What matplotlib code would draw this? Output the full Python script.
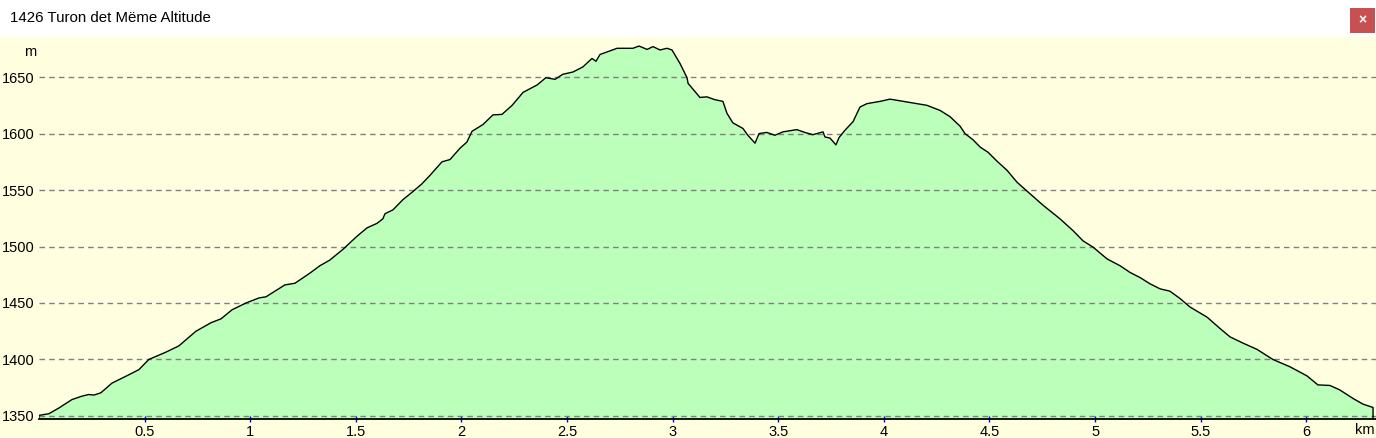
"""Altitude profile: 1426 Turon det Mëme"""
import numpy as np
from matplotlib import pyplot as plt
from matplotlib.patches import Rectangle

plt.rcParams['font.family'] = ['Liberation Sans', 'DejaVu Sans']

title = "1426 Turon det Mëme Altitude"

# distance (km) and altitude (m)
dist_km = [0.000, 0.047, 0.094, 0.156, 0.203, 0.236, 0.260, 0.293, 0.345, 0.426,
           0.473, 0.520, 0.601, 0.662, 0.743, 0.814, 0.862, 0.914, 0.980, 1.042,
           1.075, 1.126, 1.164, 1.212, 1.283, 1.330, 1.377, 1.439, 1.505, 1.553,
           1.600, 1.628, 1.638, 1.676, 1.723, 1.766, 1.813, 1.851, 1.908, 1.946,
           1.993, 2.026, 2.050, 2.102, 2.149, 2.192, 2.240, 2.292, 2.358, 2.400,
           2.443, 2.480, 2.528, 2.575, 2.618, 2.637, 2.656, 2.737, 2.812, 2.841,
           2.879, 2.907, 2.940, 2.973, 2.997, 3.035, 3.068, 3.073, 3.129, 3.162,
           3.200, 3.238, 3.257, 3.285, 3.333, 3.356, 3.390, 3.409, 3.446, 3.484,
           3.522, 3.588, 3.626, 3.664, 3.712, 3.721, 3.745, 3.773, 3.788, 3.816,
           3.854, 3.887, 3.920, 3.982, 4.029, 4.110, 4.204, 4.266, 4.313, 4.361,
           4.384, 4.422, 4.456, 4.493, 4.536, 4.583, 4.630, 4.678, 4.754, 4.834,
           4.896, 4.943, 4.990, 5.057, 5.118, 5.166, 5.213, 5.260, 5.308, 5.354,
           5.402, 5.449, 5.530, 5.591, 5.639, 5.700, 5.766, 5.842, 5.923, 6.003,
           6.055, 6.112, 6.159, 6.221, 6.268, 6.316]
alt_m = [1350.5, 1352, 1357, 1364.5, 1367.5, 1369, 1368.5, 1370.5, 1379, 1386.5,
         1391, 1400, 1406.5, 1412, 1425, 1432.5, 1436, 1444, 1450, 1454.5,
         1455.5, 1461.5, 1466, 1467.5, 1476.5, 1483, 1488, 1497.5, 1509, 1516.5,
         1520.5, 1524.5, 1529, 1532.5, 1541.5, 1548, 1555.5, 1563, 1575, 1577,
         1587, 1592.5, 1602, 1608, 1616.5, 1617, 1625, 1636.5, 1643, 1649.5,
         1648, 1652.5, 1654.5, 1659, 1666.5, 1664, 1670, 1675.5, 1675.5, 1677.5,
         1674.5, 1677, 1674, 1675.5, 1674, 1662, 1649.5, 1644.5, 1632, 1632.5,
         1630, 1628.5, 1618, 1609.5, 1604.5, 1598.5, 1591.5, 1600, 1601, 1598.5,
         1601.5, 1603.5, 1601, 1599, 1601.5, 1597, 1596, 1590, 1596.5, 1603,
         1610.5, 1623.5, 1626.5, 1628.5, 1630.5, 1628, 1625, 1620.5, 1615, 1606.5,
         1600, 1594.5, 1588, 1583.5, 1575.5, 1567.5, 1557, 1549, 1536.5, 1524.5,
         1514, 1505, 1499.5, 1489, 1483, 1477, 1472.5, 1467, 1462.5, 1460.5,
         1454, 1446.5, 1437.5, 1427.5, 1420, 1414.5, 1409, 1400, 1393.5, 1385.5,
         1377.5, 1377, 1373, 1365.5, 1360.5, 1357.5]

x_ticks = [0.5, 1, 1.5, 2, 2.5, 3, 3.5, 4, 4.5, 5, 5.5, 6]
x_labels = ["0.5", "1", "1.5", "2", "2.5", "3", "3.5", "4", "4.5", "5", "5.5", "6"]
y_ticks = [1350, 1400, 1450, 1500, 1550, 1600, 1650]

Y_MIN, Y_MAX = 1347.3, 1685.5
X_MAX = 6.33

BG = '#ffffe0'
GREEN = '#bbffbb'


def main():
    fig = plt.figure(figsize=(13.76, 4.38), dpi=100, facecolor=BG)
    W, H = 1376, 438

    # white title bar with close button
    fig.patches.append(Rectangle((0, 1 - 37 / H), 1, 37 / H, transform=fig.transFigure,
                                 facecolor='white', edgecolor='none', zorder=0))
    fig.patches.append(Rectangle((1350 / W, 1 - 33 / H), 25 / W, 25 / H,
                                 transform=fig.transFigure, facecolor='#c75050',
                                 edgecolor='none', zorder=1))
    fig.text(1362.5 / W, 1 - 20.5 / H, "×", color='white', fontsize=10,
             ha='center', va='center', fontweight='bold')
    fig.text(10 / W, 1 - 18 / H, title, fontsize=10.8, ha='left', va='center')

    ax = fig.add_axes([39 / W, 19 / H, (W - 39) / W, (419 - 37) / H])
    ax.set_facecolor(BG)

    x = np.array(dist_km)
    y = np.array(alt_m)
    ax.fill_between(x, y, Y_MIN, color=GREEN, lw=0, zorder=1)
    ax.plot(np.r_[x[0], x, x[-1]], np.r_[Y_MIN, y, Y_MIN], color='black', lw=1, zorder=4)

    for v in y_ticks:
        ax.axhline(v, color='#808080', lw=1, ls=(0, (4, 3)), zorder=3)

    ax.set_xlim(0, X_MAX)
    ax.set_ylim(Y_MIN, Y_MAX)

    for s in ['left', 'right', 'top']:
        ax.spines[s].set_visible(False)
    ax.spines['bottom'].set_linewidth(1.3)
    ax.spines['bottom'].set_zorder(5)

    ax.set_xticks(x_ticks)
    ax.set_xticklabels(x_labels)
    ax.tick_params(axis='x', direction='inout', length=4, width=1, color='blue',
                   labelsize=10.5, pad=2)
    ax.set_yticks(y_ticks)
    ax.set_yticklabels([str(v) for v in y_ticks])
    ax.tick_params(axis='y', length=0, labelsize=10.5, pad=3)

    fig.text(30 / W, 1 - 52 / H, "m", fontsize=10.5, ha='center', va='center')
    fig.text(1365 / W, 1 - 430 / H, "km", fontsize=10.5, ha='center', va='center')

    fig.savefig('out.png', dpi=100, facecolor=BG)


if __name__ == '__main__':
    main()
